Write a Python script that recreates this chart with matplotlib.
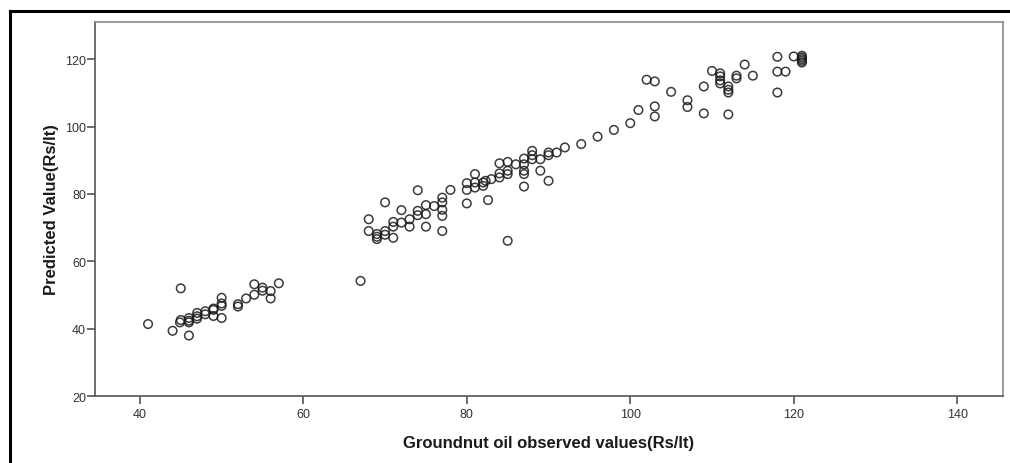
import matplotlib.pyplot as plt
from matplotlib.lines import Line2D

# Observed groundnut oil prices vs model predictions (Rs/lt)
observed = [
    41, 44, 46, 45, 44.9, 45, 46, 46, 46, 47, 47, 47, 48, 48, 49, 49, 49, 50,
    50, 50, 50, 52, 52, 53, 54, 54, 55, 55, 56, 56, 57,
    67, 68, 68, 69, 69, 69, 70, 70, 70, 71, 71, 71, 72, 72, 73, 73, 74, 74,
    74, 75, 75, 75, 76, 77, 77, 77, 77, 77, 78, 80, 80, 80, 81, 81, 81, 82,
    82, 82.3, 82.6, 83, 84, 84, 84, 85, 85, 85, 85, 86, 87, 87, 87, 87, 87,
    88, 88, 88, 89, 89, 90, 90, 90, 91, 92, 94, 96, 98, 100, 101, 103, 103,
    102, 103, 105, 107, 107, 109, 109, 110, 111, 111, 111, 111, 112, 112,
    112, 112, 113, 113, 114, 115, 118, 118, 118, 119, 120, 121, 121, 121,
    121, 121,
]
predicted = [
    41.4, 39.4, 38.0, 52.0, 41.9, 42.6, 41.9, 43.2, 42.4, 43.7, 44.7, 43.0,
    44.3, 45.2, 43.8, 46.0, 45.6, 43.2, 46.8, 47.5, 49.2, 47.3, 46.6, 49.0,
    53.2, 50.1, 52.2, 51.3, 51.2, 49.0, 53.5,
    54.2, 72.5, 69.0, 68.1, 67.3, 66.6, 69.0, 77.5, 67.9, 67.0, 70.3, 71.7,
    75.2, 71.5, 70.3, 72.5, 81.1, 75.0, 73.7, 70.3, 76.7, 74.0, 76.4, 78.9,
    77.5, 75.3, 73.5, 69.0, 81.2, 77.2, 81.2, 83.2, 85.9, 83.4, 81.9, 83.4,
    82.4, 83.9, 78.2, 84.4, 89.1, 86.1, 84.9, 89.5, 86.9, 85.9, 66.1, 88.8,
    90.5, 88.8, 86.9, 85.9, 82.2, 92.8, 91.5, 90.3, 90.3, 86.9, 92.3, 91.5,
    83.9, 92.3, 93.8, 94.8, 97.0, 99.0, 101.0, 104.9, 106.0, 103.0, 113.9,
    113.4, 110.3, 107.8, 105.8, 111.9, 103.9, 116.5, 115.8, 114.9, 113.7,
    112.8, 111.9, 110.9, 110.1, 103.6, 115.1, 114.3, 118.4, 115.1, 120.7,
    116.3, 110.1, 116.3, 120.8, 121.0, 120.5, 120.0, 119.5, 119.0,
]
x_ticks = [40, 60, 80, 100, 120, 140]
y_ticks = [20, 40, 60, 80, 100, 120]

plt.rcParams["font.family"] = "Liberation Sans"

fig = plt.figure(figsize=(10.1, 4.64), dpi=100)
ax = fig.add_axes([0.094, 0.144, 0.899, 0.807])

ax.scatter(observed, predicted, s=38, facecolors="none",
           edgecolors="#1a1a1a", linewidths=1.1, alpha=0.85)

ax.set_xlim(34.5, 145.6)
ax.set_ylim(20, 131.1)
ax.set_xticks(x_ticks)
ax.set_yticks(y_ticks)
ax.tick_params(direction="out", length=5.5, width=1.2, color="#555555",
               labelsize=9, labelcolor="#333333")
ax.tick_params(axis="x", pad=3)
ax.tick_params(axis="y", pad=1)

for side in ["left", "bottom"]:
    ax.spines[side].set_color("#555555")
    ax.spines[side].set_linewidth(1.2)
for side in ["top", "right"]:
    ax.spines[side].set_color("#8a8a8a")
    ax.spines[side].set_linewidth(1.2)

ax.set_xlabel("Groundnut oil observed values(Rs/lt)", fontsize=12,
              fontweight="bold", color="#1a1a1a", labelpad=11)
ax.set_ylabel("Predicted Value(Rs/lt)", fontsize=12,
              fontweight="bold", color="#1a1a1a", labelpad=4)

# frame lines along the top and left edge
fig.add_artist(Line2D([0.0095, 1.0], [0.975, 0.975], color="black",
                      linewidth=2.2, transform=fig.transFigure))
fig.add_artist(Line2D([0.0095, 0.0095], [0.0, 0.975], color="black",
                      linewidth=2.2, transform=fig.transFigure))

fig.savefig("out.png", dpi=100)
